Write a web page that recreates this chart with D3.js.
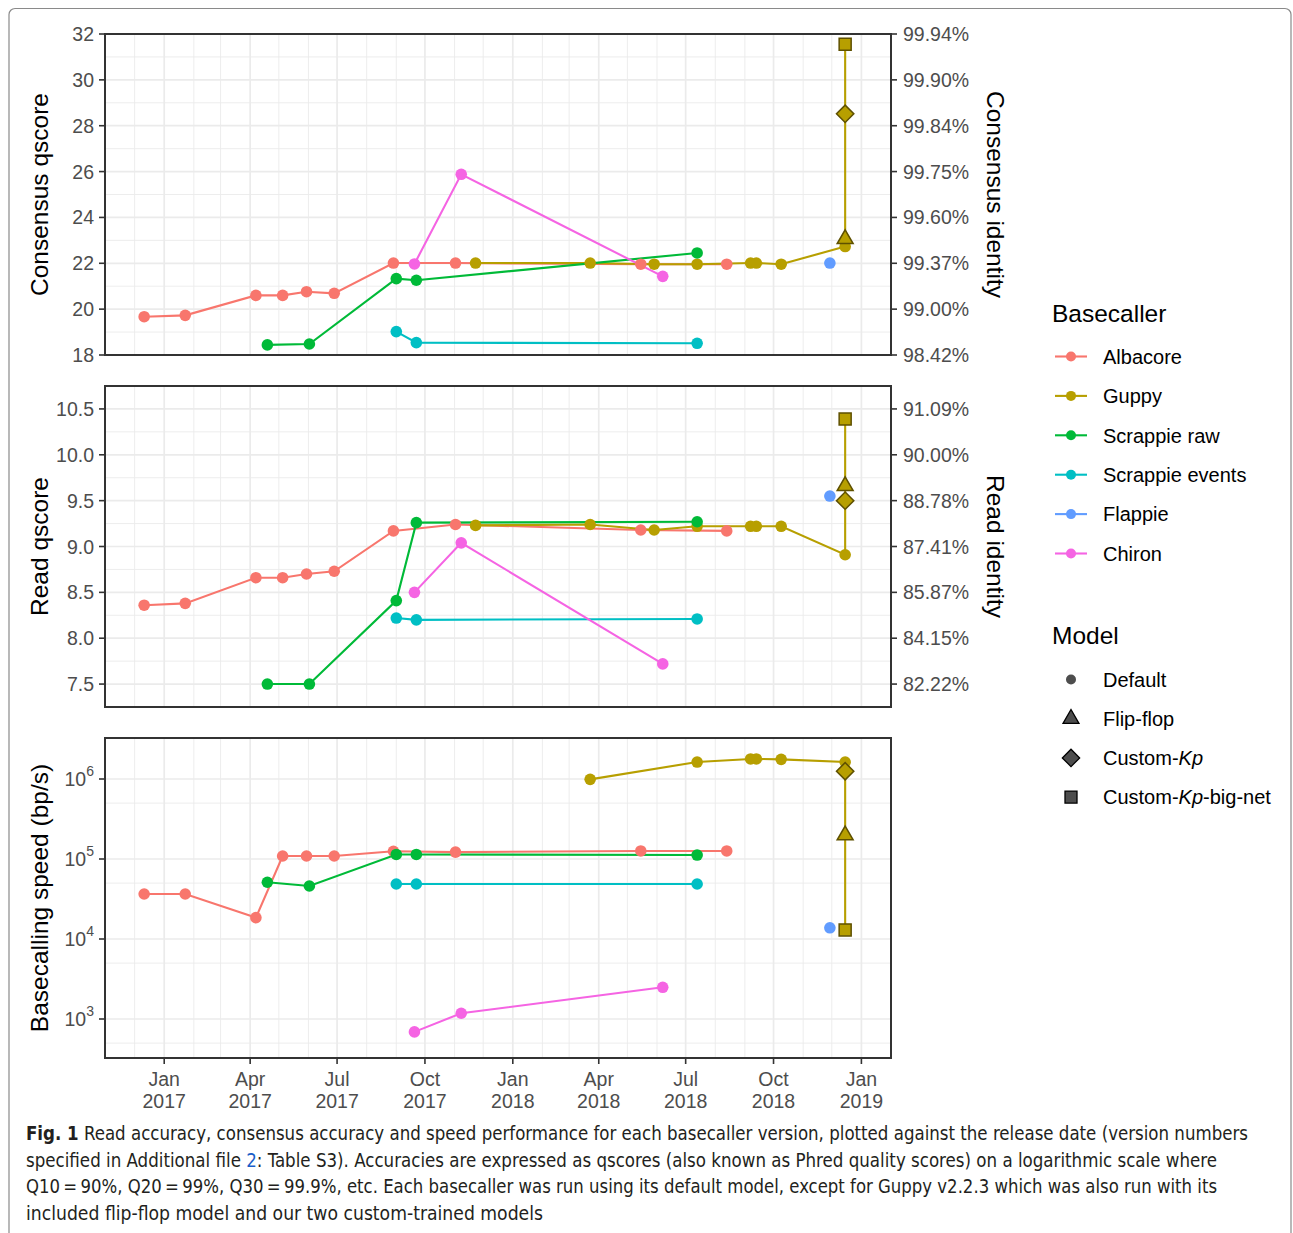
<!DOCTYPE html>
<html>
<head>
<meta charset="utf-8">
<style>
  body { margin: 0; padding: 0; background: #fff; }
  svg { display: block; font-family: "Liberation Sans", Arial, sans-serif; }
</style>
</head>
<body>
<div id="chart"></div>
<script src="https://cdnjs.cloudflare.com/ajax/libs/d3/7.8.5/d3.min.js"></script>
<script>
// ---- data ----
const basecallers = ['Albacore', 'Guppy', 'Scrappie raw', 'Scrappie events', 'Flappie', 'Chiron'];
const basecallerColors = ['#F8766D', '#B79F00', '#00BA38', '#00BFC4', '#619CFF', '#F564E3'];
const models = ['Default', 'Flip-flop', 'Custom-Kp', 'Custom-Kp-big-net'];

const albacoreDates = ['2016-12-11', '2017-01-23', '2017-04-07', '2017-05-05', '2017-05-30', '2017-06-28', '2017-08-29', '2017-11-02', '2018-05-15', '2018-08-13'];
const albacoreConsensus = [19.67, 19.73, 20.60, 20.60, 20.76, 20.69, 22.01, 22.01, 21.96, 21.96];
const albacoreRead = [8.36, 8.38, 8.66, 8.66, 8.70, 8.73, 9.17, 9.24, 9.18, 9.17];
const albacoreSpeed = [3.65e4, 3.65e4, 1.85e4, 1.09e5, 1.09e5, 1.09e5, 1.25e5, 1.22e5, 1.26e5, 1.26e5];

const guppyDates = ['2017-11-23', '2018-03-23', '2018-05-29', '2018-07-13', '2018-09-07', '2018-09-13', '2018-10-09', '2018-12-15'];
const guppyConsensus = [22.01, 22.01, 21.96, 21.96, 22.01, 22.01, 21.96, 22.73];
const guppyRead = [9.23, 9.24, 9.18, 9.22, 9.22, 9.22, 9.22, 8.91];
const guppySpeed = [null, 9.9e5, null, 1.63e6, 1.78e6, 1.78e6, 1.76e6, 1.63e6];

const guppyModelDate = '2018-12-15';
const guppyModelNames = ['Flip-flop', 'Custom-Kp', 'Custom-Kp-big-net'];
const guppyModelConsensus = [23.06, 28.52, 31.55];
const guppyModelRead = [9.66, 9.50, 10.39];
const guppyModelSpeed = [1.98e5, 1.25e6, 1.30e4];

const scrappieRawDates = ['2017-04-19', '2017-06-02', '2017-09-01', '2017-09-22', '2018-07-13'];
const scrappieRawConsensus = [18.44, 18.48, 21.33, 21.26, 22.45];
const scrappieRawRead = [7.50, 7.50, 8.41, 9.26, 9.27];
const scrappieRawSpeed = [5.12e4, 4.6e4, 1.14e5, 1.14e5, 1.12e5];

const scrappieEventsDates = ['2017-09-01', '2017-09-22', '2018-07-13'];
const scrappieEventsConsensus = [19.02, 18.54, 18.51];
const scrappieEventsRead = [8.22, 8.20, 8.21];
const scrappieEventsSpeed = [4.87e4, 4.87e4, 4.87e4];

const flappieDates = ['2018-11-29'];
const flappieConsensus = [22.01];
const flappieRead = [9.55];
const flappieSpeed = [1.38e4];

const chironDates = ['2017-09-20', '2017-11-08', '2018-06-07'];
const chironConsensus = [21.97, 25.88, 21.43];
const chironRead = [8.50, 9.04, 7.72];
const chironSpeed = [690, 1180, 2490];

const xTicks = ['2017-01-01', '2017-04-01', '2017-07-01', '2017-10-01', '2018-01-01', '2018-04-01', '2018-07-01', '2018-10-01', '2019-01-01'];
const consensusTicks = [18, 20, 22, 24, 26, 28, 30, 32];
const readTicks = [7.5, 8.0, 8.5, 9.0, 9.5, 10.0, 10.5];
const speedTicks = [1e3, 1e4, 1e5, 1e6];

// ---- build rows ----
const parse = d3.timeParse('%Y-%m-%d');
const series = [
  [albacoreDates, albacoreConsensus, albacoreRead, albacoreSpeed],
  [guppyDates, guppyConsensus, guppyRead, guppySpeed],
  [scrappieRawDates, scrappieRawConsensus, scrappieRawRead, scrappieRawSpeed],
  [scrappieEventsDates, scrappieEventsConsensus, scrappieEventsRead, scrappieEventsSpeed],
  [flappieDates, flappieConsensus, flappieRead, flappieSpeed],
  [chironDates, chironConsensus, chironRead, chironSpeed]
];
const rows = [];
series.forEach((s, i) => {
  s[0].forEach((d, j) => rows.push({
    bc: basecallers[i], date: parse(d), model: 'Default',
    consensus: s[1][j], read: s[2][j], speed: s[3][j]
  }));
});
guppyModelNames.forEach((m, j) => rows.push({
  bc: 'Guppy', date: parse(guppyModelDate), model: m,
  consensus: guppyModelConsensus[j], read: guppyModelRead[j], speed: guppyModelSpeed[j]
}));

const color = d3.scaleOrdinal().domain(basecallers).range(basecallerColors);

// ---- layout ----
const W = 1293, H = 1233;
const left = 105, right = 891;
const x = d3.scaleTime()
  .domain([new Date(2016, 9, 31), new Date(2019, 1, 1)])
  .range([left, right]);

const qToPct = q => (100 * (1 - Math.pow(10, -q / 10))).toFixed(2) + '%';

const panels = [
  { key: 'consensus', top: 34, bottom: 355,
    y: d3.scaleLinear().domain([18, 32]),
    ticks: consensusTicks, minor: d3.range(19, 32, 2),
    title: 'Consensus qscore', rightTitle: 'Consensus identity' },
  { key: 'read', top: 386, bottom: 707,
    y: d3.scaleLinear().domain([7.25, 10.75]),
    ticks: readTicks, minor: [7.75, 8.25, 8.75, 9.25, 9.75, 10.25],
    title: 'Read qscore', rightTitle: 'Read identity' },
  { key: 'speed', top: 738, bottom: 1058,
    y: d3.scaleLog().domain([Math.pow(10, 2.5125), Math.pow(10, 6.5125)]),
    ticks: speedTicks, minor: [5e2, 5e3, 5e4, 5e5],
    title: 'Basecalling speed (bp/s)', rightTitle: null }
];

const svg = d3.select('#chart').append('svg')
  .attr('width', W).attr('height', H);

// outer figure frame
svg.append('rect')
  .attr('x', 9).attr('y', 8.5).attr('width', 1282).attr('height', 1260)
  .attr('rx', 6).attr('fill', 'none').attr('stroke', '#8a8a8a').attr('stroke-width', 1.2);

const months = d3.timeMonth.range(new Date(2016, 10, 1), new Date(2019, 1, 1))
  .filter(d => x(d) > left + 1 && x(d) < right - 1);
const majorMonths = xTicks.map(parse);
const isMajor = d => majorMonths.some(m => +m === +d);

const symbolFor = {
  'Flip-flop': d3.symbol().type(d3.symbolTriangle).size(110)(),
  'Custom-Kp': d3.symbol().type(d3.symbolSquare).size(150)(),
  'Custom-Kp-big-net': d3.symbol().type(d3.symbolSquare).size(144)()
};
const symbolRotate = { 'Flip-flop': 0, 'Custom-Kp': 45, 'Custom-Kp-big-net': 0 };

panels.forEach(p => {
  p.y.range([p.bottom, p.top]);
  const g = svg.append('g');

  // minor grid
  g.selectAll('.vminor').data(months.filter(d => !isMajor(d))).enter().append('line')
    .attr('x1', d => x(d)).attr('x2', d => x(d))
    .attr('y1', p.top).attr('y2', p.bottom)
    .attr('stroke', '#EBEBEB').attr('stroke-width', 0.9);
  g.selectAll('.hminor').data(p.minor).enter().append('line')
    .attr('x1', left).attr('x2', right)
    .attr('y1', d => p.y(d)).attr('y2', d => p.y(d))
    .attr('stroke', '#EBEBEB').attr('stroke-width', 0.9);
  // major grid
  g.selectAll('.vmajor').data(majorMonths).enter().append('line')
    .attr('x1', d => x(d)).attr('x2', d => x(d))
    .attr('y1', p.top).attr('y2', p.bottom)
    .attr('stroke', '#EBEBEB').attr('stroke-width', 1.7);
  g.selectAll('.hmajor').data(p.ticks).enter().append('line')
    .attr('x1', left).attr('x2', right)
    .attr('y1', d => p.y(d)).attr('y2', d => p.y(d))
    .attr('stroke', '#EBEBEB').attr('stroke-width', 1.7);

  // lines, one per basecaller
  const line = d3.line().x(d => x(d.date)).y(d => p.y(d[p.key]));
  basecallers.forEach(bc => {
    const pts = d3.sort(rows.filter(r => r.bc === bc && r[p.key] != null), r => r.date);
    if (pts.length < 2) return;
    g.append('path')
      .attr('d', line(pts))
      .attr('fill', 'none')
      .attr('stroke', color(bc))
      .attr('stroke-width', 2.1);
  });

  // default points
  g.selectAll('.pt').data(rows.filter(r => r.model === 'Default' && r[p.key] != null))
    .enter().append('circle')
    .attr('cx', d => x(d.date)).attr('cy', d => p.y(d[p.key]))
    .attr('r', 5.8)
    .attr('fill', d => color(d.bc));

  // custom model shapes
  g.selectAll('.shape').data(rows.filter(r => r.model !== 'Default' && r[p.key] != null))
    .enter().append('path')
    .attr('d', d => symbolFor[d.model])
    .attr('transform', d => `translate(${x(d.date)},${p.y(d[p.key])}) rotate(${symbolRotate[d.model]})`)
    .attr('fill', d => color(d.bc))
    .attr('stroke', '#5E5000')
    .attr('stroke-width', 1.5);

  // panel border
  g.append('rect')
    .attr('x', left).attr('y', p.top)
    .attr('width', right - left).attr('height', p.bottom - p.top)
    .attr('fill', 'none').attr('stroke', '#333333').attr('stroke-width', 2);

  // left ticks + labels
  g.selectAll('.lt').data(p.ticks).enter().append('line')
    .attr('x1', left - 6).attr('x2', left)
    .attr('y1', d => p.y(d)).attr('y2', d => p.y(d))
    .attr('stroke', '#333333').attr('stroke-width', 1.6);
  const lt = g.selectAll('.ltl').data(p.ticks).enter().append('text')
    .attr('x', 94).attr('y', d => p.y(d)).attr('dy', '0.36em')
    .attr('text-anchor', 'end')
    .attr('font-size', 19.5).attr('fill', '#4D4D4D');
  if (p.key === 'speed') {
    lt.text('10');
    lt.append('tspan').attr('font-size', 14).attr('dy', '-0.75em')
      .text(d => Math.round(Math.log10(d)));
  } else {
    lt.text(d => p.key === 'read' ? d.toFixed(1) : d);
  }

  // right ticks + labels
  if (p.rightTitle) {
    g.selectAll('.rt').data(p.ticks).enter().append('line')
      .attr('x1', right).attr('x2', right + 6)
      .attr('y1', d => p.y(d)).attr('y2', d => p.y(d))
      .attr('stroke', '#333333').attr('stroke-width', 1.6);
    g.selectAll('.rtl').data(p.ticks).enter().append('text')
      .attr('x', 903).attr('y', d => p.y(d)).attr('dy', '0.36em')
      .attr('font-size', 19.5).attr('fill', '#4D4D4D')
      .text(qToPct);
    g.append('text')
      .attr('transform', `translate(987,${(p.top + p.bottom) / 2}) rotate(90)`)
      .attr('text-anchor', 'middle')
      .attr('font-size', 24.5).attr('fill', '#000')
      .text(p.rightTitle);
  }

  // left title
  g.append('text')
    .attr('transform', `translate(48,${(p.top + p.bottom) / 2}) rotate(-90)`)
    .attr('text-anchor', 'middle')
    .attr('font-size', 24.5).attr('fill', '#000')
    .text(p.title);
});

// bottom x axis
const bottom = panels[2].bottom;
const xg = svg.append('g');
xg.selectAll('line').data(majorMonths).enter().append('line')
  .attr('x1', d => x(d)).attr('x2', d => x(d))
  .attr('y1', bottom).attr('y2', bottom + 6)
  .attr('stroke', '#333333').attr('stroke-width', 1.6);
const xl = xg.selectAll('text').data(majorMonths).enter().append('text')
  .attr('text-anchor', 'middle')
  .attr('font-size', 19.5).attr('fill', '#4D4D4D');
xl.append('tspan').attr('x', d => x(d)).attr('y', 1086).text(d3.timeFormat('%b'));
xl.append('tspan').attr('x', d => x(d)).attr('y', 1108).text(d3.timeFormat('%Y'));

// legend: basecaller
const lg = svg.append('g');
lg.append('text').attr('x', 1052).attr('y', 322)
  .attr('font-size', 24.5).attr('fill', '#000').text('Basecaller');
basecallers.forEach((bc, i) => {
  const yy = 356.5 + i * 39.4;
  lg.append('line').attr('x1', 1055).attr('x2', 1087).attr('y1', yy).attr('y2', yy)
    .attr('stroke', color(bc)).attr('stroke-width', 2.1);
  lg.append('circle').attr('cx', 1071).attr('cy', yy).attr('r', 5).attr('fill', color(bc));
  lg.append('text').attr('x', 1103).attr('y', yy).attr('dy', '0.36em')
    .attr('font-size', 20).attr('fill', '#000').text(bc);
});

// legend: model
lg.append('text').attr('x', 1052).attr('y', 644)
  .attr('font-size', 24.5).attr('fill', '#000').text('Model');
models.forEach((m, i) => {
  const yy = 679.5 + i * 39.2;
  if (m === 'Default') {
    lg.append('circle').attr('cx', 1071).attr('cy', yy).attr('r', 5).attr('fill', '#4D4D4D');
  } else {
    lg.append('path').attr('d', symbolFor[m])
      .attr('transform', `translate(1071,${yy}) rotate(${symbolRotate[m]})`)
      .attr('fill', '#4D4D4D').attr('stroke', '#000').attr('stroke-width', 1.3);
  }
  const t = lg.append('text').attr('x', 1103).attr('y', yy).attr('dy', '0.36em')
    .attr('font-size', 20).attr('fill', '#000');
  if (m.startsWith('Custom')) {
    t.append('tspan').text('Custom-');
    t.append('tspan').attr('font-style', 'italic').text('Kp');
    if (m.endsWith('big-net')) t.append('tspan').text('-big-net');
  } else {
    t.text(m);
  }
});

// caption
const cap = svg.append('g')
  .attr('font-family', '"Liberation Sans Narrow", "DejaVu Sans Condensed", sans-serif')
  .attr('font-size', 19).attr('fill', '#231F20');
const c1 = cap.append('text').attr('x', 26).attr('y', 1140)
  .attr('textLength', 1222).attr('lengthAdjust', 'spacingAndGlyphs');
c1.append('tspan').attr('font-weight', 'bold').text('Fig. 1');
c1.append('tspan').text(' Read accuracy, consensus accuracy and speed performance for each basecaller version, plotted against the release date (version numbers');
const c2 = cap.append('text').attr('x', 26).attr('y', 1167)
  .attr('textLength', 1191).attr('lengthAdjust', 'spacingAndGlyphs');
c2.append('tspan').text('specified in Additional file ');
c2.append('tspan').attr('fill', '#1a5dc8').text('2');
c2.append('tspan').text(': Table S3). Accuracies are expressed as qscores (also known as Phred quality scores) on a logarithmic scale where');
cap.append('text').attr('x', 26).attr('y', 1193)
  .attr('textLength', 1191).attr('lengthAdjust', 'spacingAndGlyphs')
  .text('Q10\u2009=\u200990%, Q20\u2009=\u200999%, Q30\u2009=\u200999.9%, etc. Each basecaller was run using its default model, except for Guppy v2.2.3 which was also run with its');
cap.append('text').attr('x', 26).attr('y', 1220)
  .attr('textLength', 517).attr('lengthAdjust', 'spacingAndGlyphs')
  .text('included flip-flop model and our two custom-trained models');
</script>
</body>
</html>
